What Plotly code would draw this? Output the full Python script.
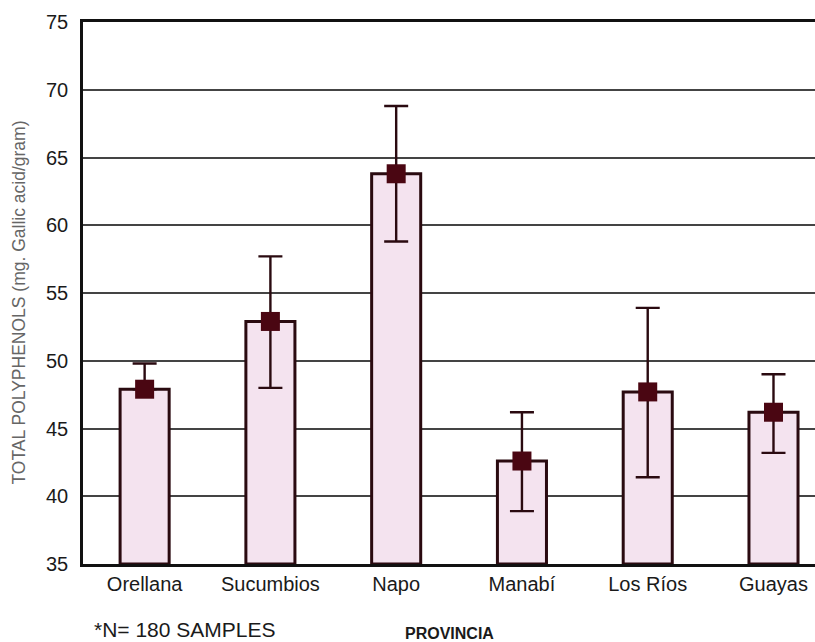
import plotly.graph_objects as go

# Total polyphenol content by province (mean ± error)
provinces = ["Orellana", "Sucumbios", "Napo", "Manabí", "Los Ríos", "Guayas"]
means = [47.9, 52.9, 63.8, 42.6, 47.7, 46.2]
err_plus = [1.9, 4.8, 5.0, 3.6, 6.2, 2.8]
err_minus = [0.0, 4.9, 5.0, 3.7, 6.3, 3.0]
y_ticks = [35, 40, 45, 50, 55, 60, 65, 70, 75]

bar_fill = "#f4e3ef"
dark = "#2a0a10"
marker_col = "#4a0612"

fig = go.Figure()

fig.add_trace(go.Bar(
    x=provinces,
    y=[m - 35 for m in means],
    base=35,
    width=0.39,
    marker=dict(color=bar_fill, line=dict(color=dark, width=3)),
    hoverinfo="skip",
    showlegend=False,
))

fig.add_trace(go.Scatter(
    x=provinces,
    y=means,
    mode="markers",
    marker=dict(symbol="square", size=19, color=marker_col),
    error_y=dict(type="data", array=err_plus, arrayminus=err_minus,
                 symmetric=False, color=dark, thickness=2.4, width=12),
    showlegend=False,
))

fig.update_layout(
    width=815, height=642,
    margin=dict(l=83, r=0, t=22, b=78),
    paper_bgcolor="white",
    plot_bgcolor="white",
    font=dict(family="Liberation Sans, Arial, sans-serif", size=20, color="#1a1a1a"),
    xaxis=dict(
        range=[-0.49, 5.33],
        showgrid=False,
        showline=True, linecolor="#111", linewidth=2.5, mirror=True,
        ticks="", tickfont=dict(size=20),
    ),
    yaxis=dict(
        range=[35, 75],
        tickvals=y_ticks,
        showgrid=True, gridcolor="#444", gridwidth=1.8,
        showline=True, linecolor="#111", linewidth=2.5,
        ticks="", tickfont=dict(size=20), ticklabelstandoff=8,
        zeroline=False,
    ),
    annotations=[
        dict(text="TOTAL POLYPHENOLS (mg. Gallic acid/gram)", textangle=-90,
             xref="paper", yref="paper", x=-0.087, y=0.483,
             xanchor="center", yanchor="middle", showarrow=False,
             font=dict(size=17.5, color="#666")),
        dict(text="*N= 180 SAMPLES", xref="paper", yref="paper",
             x=0.012, y=-0.12, xanchor="left", yanchor="middle",
             showarrow=False, font=dict(size=21, color="#1a1a1a")),
        dict(text="<b>PROVINCIA</b>", xref="paper", yref="paper",
             x=0.501, y=-0.129, xanchor="center", yanchor="middle",
             showarrow=False, font=dict(size=16, color="#1a1a1a")),
    ],
)

fig.write_html("out.html")
